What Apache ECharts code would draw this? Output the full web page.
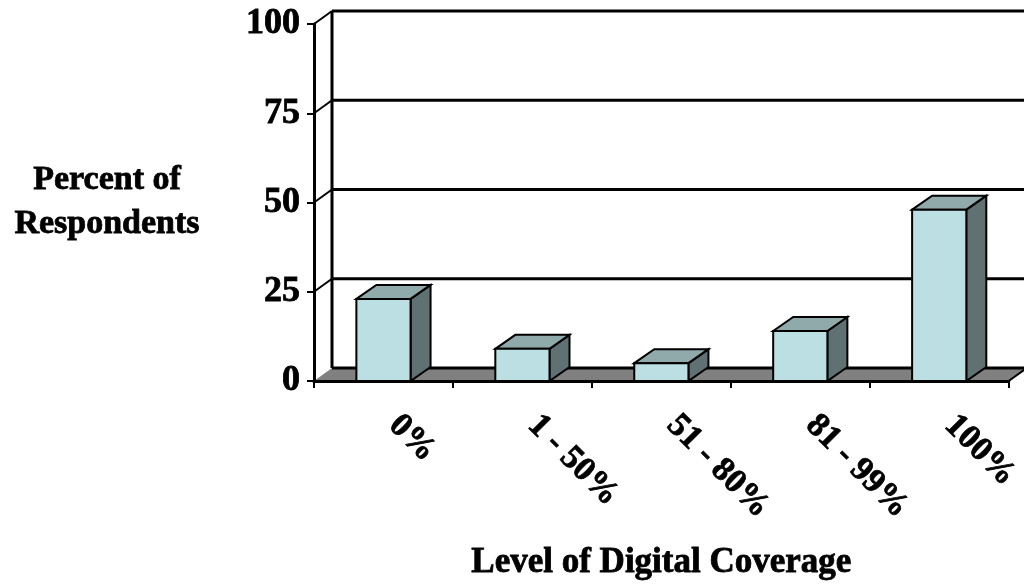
<!DOCTYPE html>
<html>
<head>
<meta charset="utf-8">
<script src="https://cdn.jsdelivr.net/npm/echarts@6/dist/echarts.min.js"></script>
<style>
  html, body { margin: 0; padding: 0; background: #ffffff; }
  #chart { width: 1024px; height: 586px; }
</style>
</head>
<body>
<div id="chart"></div>
<script>
// Share of respondents by level of digital coverage
const categories = ['0%', '1 - 50%', '51 - 80%', '81 - 99%', '100%'];
const percentRespondents = [23, 9, 5, 14, 48];
const yTicks = [0, 25, 50, 75, 100];

const FONT = '"Liberation Serif", "Times New Roman", serif';
// slight outline to give the heavy display weight of the labels
const HEAVY = { textBorderColor: '#000', textBorderWidth: 0.8 };

// depth offsets for the pseudo-3D back wall and bar boxes
const WALL_DX = 18, WALL_DY = -13;
const BAR_DX = 20, BAR_DY = -14;

const chart = echarts.init(document.getElementById('chart'), null, { renderer: 'canvas' });

// back wall: gridlines, left wall edge, tick connectors and the grey floor
function renderWall(params, api) {
  const cs = params.coordSys;
  const left = cs.x, right = cs.x + cs.width;
  const v = api.value(1);
  const y = api.coord([0, v])[1];
  const children = [];
  if (v === yTicks[0]) {
    children.push({
      type: 'polygon',
      shape: { points: [[left, y], [left + WALL_DX, y + WALL_DY], [right + WALL_DX, y + WALL_DY], [right, y]] },
      style: { fill: '#808080' }
    });
    const yTop = api.coord([0, yTicks[yTicks.length - 1]])[1];
    children.push({
      type: 'line',
      shape: { x1: left + WALL_DX, y1: y + WALL_DY, x2: left + WALL_DX, y2: yTop + WALL_DY },
      style: { stroke: '#000', lineWidth: 3 }
    });
    children.push({
      type: 'line',
      shape: { x1: right, y1: y, x2: right + WALL_DX, y2: y + WALL_DY },
      style: { stroke: '#000', lineWidth: 2 }
    });
  } else {
    children.push({
      type: 'line',
      shape: { x1: left, y1: y, x2: left + WALL_DX, y2: y + WALL_DY },
      style: { stroke: '#000', lineWidth: 2 }
    });
  }
  children.push({
    type: 'line',
    shape: { x1: left + WALL_DX, y1: y + WALL_DY, x2: right + WALL_DX, y2: y + WALL_DY },
    style: { stroke: '#000', lineWidth: 3 }
  });
  return { type: 'group', children: children };
}

// one shaded box per category
function renderBox(params, api) {
  const i = api.value(0);
  const top = api.coord([i, api.value(1)]);
  const base = api.coord([i, 0]);
  const w = api.size([1, 0])[0] * 0.39;
  const x0 = top[0] - w / 2, x1 = top[0] + w / 2;
  const yt = top[1], yb = base[1];
  const edge = { stroke: '#000', lineWidth: 2, lineJoin: 'miter' };
  return {
    type: 'group',
    children: [
      {
        type: 'polygon',
        shape: { points: [[x1, yt], [x1 + BAR_DX, yt + BAR_DY], [x1 + BAR_DX, yb + BAR_DY], [x1, yb]] },
        style: Object.assign({ fill: '#5f7173' }, edge)
      },
      {
        type: 'polygon',
        shape: { points: [[x0, yt], [x0 + BAR_DX, yt + BAR_DY], [x1 + BAR_DX, yt + BAR_DY], [x1, yt]] },
        style: Object.assign({ fill: '#90a9ab' }, edge)
      },
      {
        type: 'rect',
        shape: { x: x0, y: yt, width: x1 - x0, height: yb - yt },
        style: Object.assign({ fill: '#bbdfe2' }, edge)
      }
    ]
  };
}

const option = {
  animation: false,
  backgroundColor: '#ffffff',
  grid: { left: 314, right: 9, top: 24, bottom: 205 },
  xAxis: {
    type: 'category',
    data: categories,
    z: 5,
    name: 'Level of Digital Coverage',
    nameLocation: 'middle',
    nameGap: 182,
    nameTextStyle: Object.assign({ fontFamily: FONT, fontWeight: 'bold', fontSize: 35, color: '#000', verticalAlign: 'middle' }, HEAVY),
    axisLine: { lineStyle: { color: '#000', width: 3 } },
    axisTick: { show: true, length: 7, lineStyle: { color: '#000', width: 2 } },
    axisLabel: Object.assign({
      rotate: -45,
      margin: 50,
      interval: 0,
      fontFamily: FONT,
      fontWeight: 'bold',
      fontSize: 34,
      lineHeight: 30,
      color: '#000',
      verticalAlign: 'bottom'
    }, HEAVY),
    splitLine: { show: false }
  },
  yAxis: {
    type: 'value',
    min: 0,
    max: 100,
    interval: 25,
    z: 5,
    name: 'Percent of\nRespondents',
    nameLocation: 'middle',
    nameRotate: 0,
    nameGap: 207,
    nameTextStyle: Object.assign({
      fontFamily: FONT, fontWeight: 'bold', fontSize: 34, color: '#000',
      align: 'center', verticalAlign: 'middle', lineHeight: 44
    }, HEAVY),
    axisLine: { show: true, lineStyle: { color: '#000', width: 3 } },
    axisTick: { show: true, length: 7, lineStyle: { color: '#000', width: 2 } },
    axisLabel: Object.assign({ margin: 14, fontFamily: FONT, fontWeight: 'bold', fontSize: 36, color: '#000' }, HEAVY),
    splitLine: { show: false }
  },
  series: [
    {
      type: 'custom',
      z: 1,
      silent: true,
      renderItem: renderWall,
      encode: { x: 0, y: 1 },
      data: yTicks.map(function (v) { return [0, v]; })
    },
    {
      type: 'custom',
      z: 3,
      renderItem: renderBox,
      encode: { x: 0, y: 1 },
      data: percentRespondents.map(function (v, i) { return [i, v]; })
    }
  ]
};

chart.setOption(option);
</script>
</body>
</html>
